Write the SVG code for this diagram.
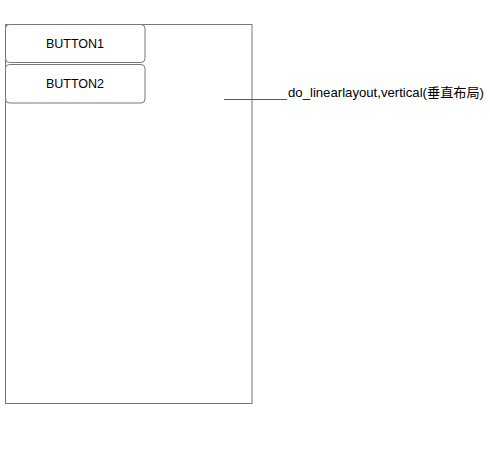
<svg xmlns="http://www.w3.org/2000/svg" width="490" height="461" viewBox="0 0 490 461">
<style>
.btn{fill:#fff;stroke:#777;stroke-width:1}
.t{font-family:"Liberation Sans","Noto Sans CJK SC",sans-serif;font-size:12.5px;fill:#000}
.l{font-size:13px}
</style>
<rect width="490" height="461" fill="#fff"/>
<g id="container">
<rect x="5.5" y="24.5" width="246.5" height="379" fill="#fff" stroke="#777"/>
</g>
<g id="button1">
<rect class="btn" x="5.5" y="24.5" width="139.5" height="38" rx="4"/>
<text class="t" x="75" y="48" text-anchor="middle">BUTTON1</text>
</g>
<g id="button2">
<rect class="btn" x="5.5" y="64.5" width="139.5" height="38.5" rx="4"/>
<text class="t" x="75" y="88" text-anchor="middle">BUTTON2</text>
</g>
<g id="connectors">
<line x1="224" y1="99.5" x2="287" y2="99.5" stroke="#555" stroke-width="1"/>
</g>
<g id="label">
<text class="t l" x="288" y="97" textLength="196" lengthAdjust="spacingAndGlyphs">do_linearlayout,vertical(垂直布局)</text>
</g>
</svg>
